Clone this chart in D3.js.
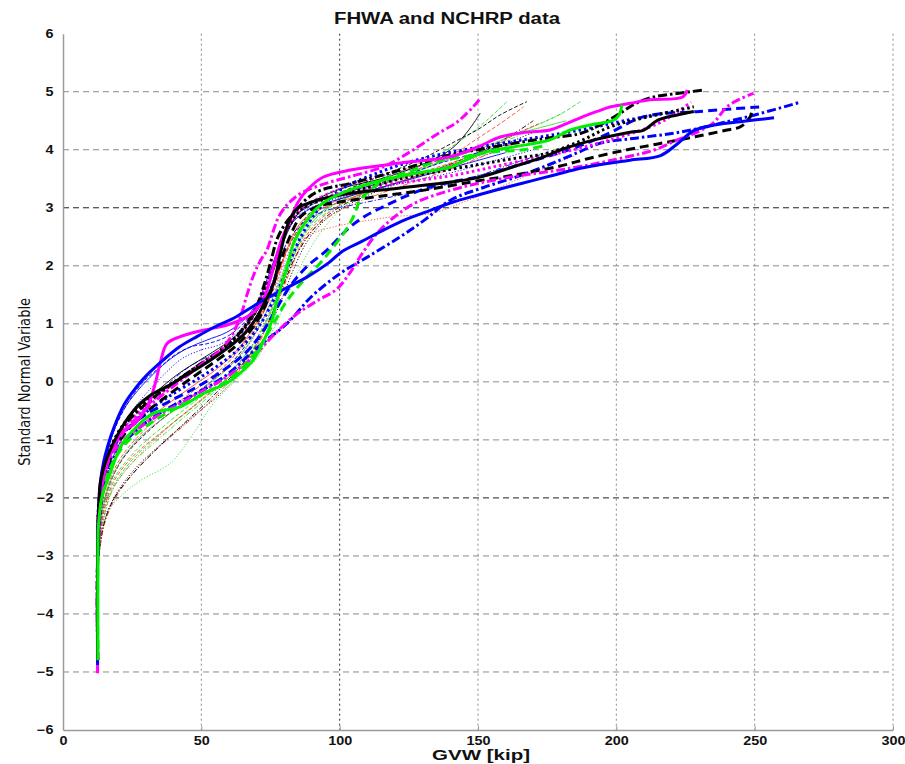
<!DOCTYPE html>
<html>
<head>
<meta charset="utf-8">
<script src="https://cdn.jsdelivr.net/npm/d3@7"></script>
<style>
  html, body { margin: 0; padding: 0; background: #fff; }
  svg { display: block; }
</style>
</head>
<body>
<svg id="chart" width="905" height="764"></svg>
<script>
// ---------------- DATA ----------------
const chartTitle = "FHWA and NCHRP data";
const xLabel = "GVW [kip]";
const yLabel = "Standard Normal Variable";
const xTicks = [0, 50, 100, 150, 200, 250, 300];
const yTicks = [-6, -5, -4, -3, -2, -1, 0, 1, 2, 3, 4, 5, 6];

// thin series (GVW kip, standard normal variable)
const thinGreenDashed = [[13,-3],[14,-2.4],[17,-1.9],[24,-1.4],[35,-0.9],[48,-0.4],[58,0],[66,0.4],[72,0.85],[77,1.4],[82,2.0],[88,2.6],[95,3.0],[105,3.3],[120,3.6],[135,3.9],[145,4.2],[153,4.5],[160.5,4.83]];
const thinBlackDashed = [[13,-3],[14,-2.3],[16.5,-1.8],[22,-1.3],[32,-0.8],[45,-0.3],[56,0.1],[64,0.5],[70,0.95],[75,1.5],[79,2.05],[84,2.55],[90,2.95],[100,3.25],[115,3.55],[130,3.85],[142,4.15],[150,4.35],[158,4.6],[167.7,4.83]];
const thinRedDashed = [[13,-3],[14.5,-2.3],[18,-1.75],[25,-1.3],[36,-0.85],[49,-0.35],[58,0],[66,0.35],[72,0.8],[77,1.3],[82,1.9],[87,2.45],[93,2.8],[102,3.1],[115,3.4],[130,3.7],[142,3.95],[150,4.2],[158,4.45],[166.5,4.74]];
const thinGreenDotted = [[13,-3],[15,-2.3],[20.7,-1.98],[28,-1.7],[38.8,-1.4],[47,-0.9],[54.4,-0.37],[62,0],[70,0.4],[76,0.9],[81,1.45],[86,2.0],[92,2.5],[100,2.95],[110,3.3],[125,3.6],[140,3.85],[155,4.1],[170,4.4],[180.9,4.63]];
const thinGreenDashed2 = [[13,-3],[14.5,-2.2],[18,-1.7],[26,-1.2],[38,-0.7],[50,-0.25],[60,0.15],[68,0.6],[74,1.1],[79,1.7],[84,2.3],[90,2.75],[98,3.05],[110,3.35],[125,3.6],[140,3.85],[155,4.1],[170,4.4],[180,4.62],[187,4.83]];
const thinBlackSolid = [[13,-3],[13.5,-2.2],[15,-1.6],[19,-1.0],[25,-0.55],[33,-0.2],[42,0.15],[52,0.45],[60,0.7],[67,1.0],[72,1.4],[76,1.9],[80,2.45],[85,2.9],[92,3.15],[102,3.35],[115,3.5],[130,3.75],[140,4.0],[146,4.3],[150.8,4.63]];
const thinBlueDashed = [[13,-3],[13.5,-2.1],[15,-1.4],[18,-0.9],[23,-0.4],[29,0.0],[35,0.25],[40,0.45],[46,0.6],[53.2,0.67],[60,0.8],[66,1.05],[71,1.4],[75,1.9],[79,2.4],[84,2.85],[92,3.1],[105,3.3],[120,3.5],[135,3.75],[150,3.95],[165,4.15]];
const thinBlueDotted = [[13,-3],[13.5,-2.2],[15.5,-1.5],[19,-1.0],[25,-0.5],[31,-0.15],[37,0.15],[43,0.4],[50,0.55],[57,0.65],[63,0.85],[68,1.15],[72.5,1.55],[76,2.0],[80,2.5],[86,2.9],[95,3.1],[110,3.3],[125,3.45],[140,3.6],[155,3.8],[170,4.0]];
const thinBlueDashDot = [[13,-3],[14,-2.2],[16,-1.6],[20,-1.1],[26,-0.65],[33,-0.3],[40,0.05],[47,0.3],[55,0.5],[62,0.7],[68,1.0],[73,1.4],[77,1.9],[81,2.4],[87,2.75],[95,2.95],[105,3.05],[120,3.2],[135,3.35],[150,3.55],[165,3.8],[175,3.95]];
const thinRedDotted = [[13,-3],[14.5,-2.4],[17.5,-1.9],[23,-1.5],[31,-1.1],[40,-0.7],[50,-0.3],[58,0.05],[65,0.4],[71,0.85],[76,1.35],[80,1.9],[84,2.3],[90,2.55],[97.8,2.67],[110,2.78],[120,2.85],[132.8,2.9],[145,3.1],[160,3.4],[175,3.7],[185,3.9]];
const thinRedDashed2 = [[13,-3],[14,-2.3],[16.5,-1.75],[21,-1.3],[29,-0.85],[39,-0.45],[50,-0.05],[59,0.3],[66,0.7],[72,1.15],[77,1.7],[81,2.25],[86,2.7],[93,3.0],[103,3.2],[118,3.45],[132,3.65],[145,3.85],[155,4.05],[165,4.3],[172,4.45]];
const thinMagentaDashed = [[13,-3],[13.5,-2.3],[15,-1.7],[18.5,-1.15],[24,-0.7],[31,-0.35],[40,0.0],[50,0.3],[58,0.55],[65,0.85],[70,1.2],[74,1.65],[78,2.2],[82,2.7],[88,3.05],[98,3.3],[112,3.5],[128,3.7],[140,3.88],[150,4.0],[160,4.1]];
const thinBlackDotted = [[13,-3],[15,-2.4],[19,-1.95],[26,-1.5],[36,-1.05],[47,-0.6],[57,-0.2],[65,0.2],[72,0.7],[78,1.3],[83,1.9],[88,2.4],[95,2.8],[105,3.1],[120,3.4],[135,3.65],[150,3.9],[160,4.1],[170,4.3]];
const thinGreenSolid = [[13,-3],[14,-2.3],[16.5,-1.8],[21,-1.35],[29,-0.9],[40,-0.5],[51,-0.1],[60,0.25],[67,0.65],[73,1.15],[78,1.7],[82,2.2],[87,2.65],[94,2.95],[104,3.2],[118,3.45],[132,3.7],[145,3.95],[158,4.2],[170,4.35],[182,4.5]];
const thinRedSolid = [[13,-3],[14,-2.2],[16,-1.65],[20,-1.2],[27,-0.8],[36,-0.45],[46,-0.1],[55,0.2],[63,0.55],[69,0.95],[74,1.4],[78,1.9],[82,2.4],[86,2.75],[92,2.95],[100,3.1],[112,3.3],[125,3.5],[138,3.7],[150,3.9],[160,4.05]];
const thinBlueSolid = [[13,-3],[13.3,-2.2],[14.5,-1.6],[17,-1.05],[21,-0.55],[27,-0.15],[33,0.15],[39,0.4],[45,0.58],[52,0.72],[59,0.85],[65,1.05],[70,1.35],[74,1.8],[78,2.3],[83,2.75],[90,3.0],[100,3.15],[115,3.35],[130,3.55],[145,3.75],[160,3.95]];
const thinMagentaDotted = [[13,-3],[14,-2.4],[16,-1.9],[20,-1.45],[27,-1.0],[37,-0.6],[48,-0.2],[57,0.15],[65,0.5],[71,0.95],[76,1.5],[80,2.05],[85,2.55],[91,2.9],[100,3.15],[115,3.4],[130,3.6],[145,3.8],[160,4.0],[175,4.15]];
const thinBlackDashDot = [[13,-3],[14.5,-2.5],[18,-2.05],[24,-1.65],[33,-1.2],[43,-0.75],[53,-0.3],[61,0.1],[68,0.5],[74,1.0],[79,1.6],[84,2.15],[90,2.6],[98,2.95],[110,3.25],[125,3.5],[140,3.75],[152,4.0],[162,4.25],[170,4.5]];
const thinGreenDashDot = [[13,-3],[14.5,-2.4],[18,-1.85],[24,-1.45],[33,-1.05],[44,-0.6],[54,-0.2],[62,0.2],[69,0.65],[75,1.2],[80,1.8],[85,2.35],[91,2.75],[100,3.05],[112,3.3],[128,3.55],[142,3.8],[155,4.05],[165,4.25]];
const thinRedDashDot = [[13,-3],[15,-2.45],[19,-2.0],[25,-1.6],[34,-1.15],[45,-0.7],[55,-0.25],[63,0.15],[70,0.6],[75,1.1],[80,1.7],[85,2.25],[92,2.7],[102,3.0],[115,3.25],[130,3.5],[142,3.7],[155,3.95],[165,4.15]];

// bold series
const blueDotted = [[12.5,-4.8],[12.5,-3],[13,-2.1],[15,-1.5],[20,-1.0],[28,-0.6],[40,-0.2],[52,0.15],[62,0.5],[70,0.9],[76,1.4],[81,1.95],[86,2.5],[92,2.95],[100,3.3],[114.7,3.62],[130,3.85],[150.8,4.05],[170,4.2],[187,4.34],[203.9,4.51],[219.6,4.65]];
const blueDashed = [[12.5,-4.8],[12.5,-3],[13,-2.2],[15,-1.6],[19,-1.1],[26,-0.7],[36,-0.4],[48,-0.1],[58,0.2],[66,0.5],[72,0.85],[77,1.25],[82,1.64],[88,1.98],[95.4,2.27],[102.6,2.62],[109,2.85],[115.9,3.02],[124,3.2],[132.8,3.36],[142,3.46],[150.8,3.54],[162,3.7],[174.9,3.88],[186,4.05],[198,4.3],[210,4.57],[230,4.66],[252,4.74]];
const blueDashDot = [[12.5,-4.8],[12.5,-3],[13,-2.3],[15,-1.7],[19,-1.25],[25,-0.9],[33,-0.6],[42,-0.35],[52,-0.1],[60,0.15],[67,0.45],[73,0.7],[79.7,0.95],[83.3,1.12],[89.4,1.45],[100.2,1.87],[110,2.15],[121.9,2.5],[131,2.8],[140,3.13],[152,3.35],[165,3.55],[176,3.75],[186,3.95],[194,4.11],[207,4.2],[220,4.28],[230,4.37],[238,4.46],[250,4.6],[265.8,4.81]];
const blueSolid = [[12.5,-4.88],[12.5,-3],[12.8,-2.4],[13.5,-1.74],[14.6,-1.4],[16.2,-1.1],[18.3,-0.8],[22,-0.4],[26.7,-0.08],[31,0.15],[36.3,0.38],[42,0.6],[48.4,0.78],[55,0.95],[61,1.08],[67,1.25],[72.5,1.41],[80,1.6],[88,1.8],[96,2.05],[101,2.25],[108,2.42],[116,2.62],[124,2.8],[133,2.96],[141,3.1],[150,3.22],[160,3.35],[169,3.46],[178,3.57],[187,3.68],[195,3.75],[205,3.82],[216,3.9],[222,4.1],[228,4.33],[236,4.43],[246,4.49],[257,4.55]];
const blackDashed = [[12.5,-4.8],[12.5,-3],[13,-2.2],[15.5,-1.55],[20,-1.05],[27,-0.65],[36,-0.3],[46,0.05],[55,0.35],[62,0.6],[68,0.9],[72,1.2],[75.5,1.6],[78.5,2.05],[82,2.5],[86,2.85],[92,3.02],[100,3.1],[114.7,3.2],[130,3.3],[148.4,3.45],[165,3.58],[179.8,3.72],[190,3.85],[203.9,4.0],[215,4.1],[228,4.22],[240,4.34],[245,4.4],[248.4,4.57],[249,4.69]];
const blackDotted = [[12.5,-4.8],[12.5,-3],[13,-2.1],[15,-1.45],[19,-0.95],[25,-0.55],[34,-0.2],[44,0.12],[53,0.4],[60,0.65],[66,0.95],[70,1.25],[74,1.7],[77.5,2.2],[81.4,2.67],[87,3.0],[97.8,3.19],[110,3.35],[121.9,3.5],[135,3.62],[150.8,3.75],[163,3.85],[174.9,3.94],[187,4.15],[198,4.4],[210,4.55],[228,4.74]];
const blackSolid = [[12.5,-4.8],[12.5,-3],[12.8,-2.4],[13.5,-1.74],[16,-1.3],[20.7,-0.83],[26.7,-0.43],[32,-0.22],[38.8,-0.05],[44,0.1],[49.6,0.26],[56.8,0.49],[61.6,0.66],[66,0.85],[70.1,1.12],[73,1.38],[76.1,1.7],[78.5,2.2],[80.5,2.6],[82.5,2.85],[85,3.0],[91.8,3.13],[103.9,3.25],[115.9,3.31],[132.8,3.4],[150,3.52],[163,3.71],[175,3.9],[180,4.0],[192,4.17],[205,4.3],[210,4.34],[215,4.51],[222,4.6],[228,4.66]];
const blackDashDot = [[12.5,-4.8],[12.5,-3],[13,-2.2],[15,-1.5],[19,-1.0],[24,-0.65],[32,-0.3],[42,0.05],[50,0.32],[57,0.55],[63,0.8],[67,1.05],[70,1.3],[72.5,1.64],[75,2.05],[77.3,2.45],[80,2.7],[83.3,2.9],[88,3.15],[93,3.3],[103.9,3.42],[121.9,3.65],[138.8,3.9],[150,4.0],[162.9,4.11],[175,4.2],[187,4.28],[195,4.45],[201.4,4.63],[207,4.8],[213.5,4.91],[222,4.97],[231.6,5.03]];
const magentaDotted = [[12.5,-4.8],[12.5,-3],[13,-2.0],[15,-1.4],[20,-0.9],[28,-0.5],[38,-0.1],[48,0.25],[57,0.55],[64,0.85],[69,1.2],[73,1.6],[76,2.0],[79,2.4],[83,2.8],[88,3.05],[96,3.2],[110,3.35],[125,3.45],[140,3.55],[160,3.75],[180,3.95],[200,4.2],[215,4.45],[222,4.65],[227,4.82]];
const magentaDashDotLower = [[12.5,-4.8],[12.5,-3],[13,-2.1],[16,-1.4],[22,-1.0],[32,-0.65],[45,-0.3],[58,0.05],[68,0.4],[76,0.8],[84,1.15],[92,1.4],[99,1.6],[104,1.9],[108,2.2],[113.5,2.56],[120,2.85],[128,3.1],[140,3.3],[150,3.42],[163,3.54],[175,3.62],[187,3.71],[204,3.88],[214,4.0],[222,4.17],[229,4.3],[235,4.46],[240,4.74],[245,4.88],[249.6,4.97]];
const magentaDashDotUpper = [[12.5,-4.8],[12.5,-3],[13,-2.2],[15.5,-1.5],[20,-1.0],[26,-0.65],[34,-0.3],[42,0.0],[50,0.3],[56.9,0.55],[61,0.8],[64.1,1.12],[66.5,1.5],[69,1.85],[71.5,2.1],[73.7,2.27],[76,2.6],[78,2.85],[81,3.05],[86,3.25],[95,3.42],[104,3.54],[116,3.71],[125,3.95],[133,4.2],[138,4.35],[142,4.46],[146,4.63],[149,4.78],[151,4.89]];
const magentaSolid = [[12.5,-5.02],[12.5,-3],[12.8,-2.4],[14,-1.8],[17,-1.25],[21,-0.88],[26,-0.72],[29.5,-0.5],[31.5,-0.31],[33.5,0.0],[35.1,0.32],[37.6,0.66],[42.4,0.78],[50.7,0.89],[59.3,0.98],[66.5,1.12],[70,1.25],[72.4,1.41],[74.5,1.7],[76.5,2.05],[79,2.45],[82.1,2.79],[85,3.1],[88.3,3.31],[94.1,3.53],[103.9,3.65],[121.9,3.77],[140,3.88],[150,4.05],[158,4.22],[167,4.3],[176,4.34],[182,4.45],[188,4.57],[193,4.66],[198,4.74],[205,4.8],[212,4.86],[224,4.91],[225.6,5.03]];
const greenDashed = [[12.6,-4.6],[12.6,-3],[13.2,-2.2],[16,-1.6],[22,-1.1],[32,-0.7],[45,-0.35],[57,-0.05],[65,0.25],[71,0.6],[76,1.0],[81,1.4],[87,1.75],[93,2.05],[97.8,2.33],[102,2.6],[105,2.85],[107.4,3.13],[111,3.3],[115.9,3.48],[125,3.62],[132.8,3.77],[145,3.88],[155,3.96],[166.5,4.0],[175,4.08]];
const greenSolid = [[12.6,-4.8],[12.6,-3],[12.8,-2.5],[14,-2.0],[17.1,-1.57],[21,-1.1],[26.7,-0.77],[32.7,-0.54],[42.4,-0.43],[50.8,-0.2],[59.3,-0.02],[64,0.15],[68.8,0.38],[71.5,0.6],[73.8,0.84],[75.8,1.1],[77.4,1.41],[79.5,1.75],[81,1.98],[83.3,2.39],[85.5,2.6],[88.3,2.79],[91.5,2.98],[95.5,3.13],[105,3.33],[115.8,3.48],[128,3.6],[140,3.7],[146,3.83],[151.9,3.95],[163,4.05],[176,4.17],[183.4,4.34],[191,4.43],[199,4.51],[201,4.6],[202,4.77]];

// ---------------- STYLES ----------------
const COL = { blue: "#0000ff", black: "#000000", magenta: "#ff00ff", green: "#00ee00", red: "#ff4a2a", lgreen: "#33dd33" };
const thinDash = { solid: null, dashed: "4,2", dotted: "1.2,1.8", dashdot: "5,2,1.2,2" };
const boldDash = { solid: null, dashed: "9,5", dotted: "2.5,3", dashdot: "9,3,2.5,3" };

const thinSeries = [
  [thinGreenDotted, COL.lgreen, "dotted"],
  [thinBlackDotted, COL.black, "dotted"],
  [thinRedDashDot, COL.red, "dashdot"],
  [thinGreenDashDot, COL.lgreen, "dashdot"],
  [thinBlackDashDot, COL.black, "dashdot"],
  [thinRedDotted, COL.red, "dotted"],
  [thinGreenDashed, COL.lgreen, "dashed"],
  [thinGreenDashed2, COL.lgreen, "dashed"],
  [thinBlackDashed, COL.black, "dashed"],
  [thinRedDashed, COL.red, "dashed"],
  [thinRedDashed2, COL.red, "dashed"],
  [thinGreenSolid, COL.lgreen, "solid"],
  [thinRedSolid, COL.red, "solid"],
  [thinMagentaDotted, COL.magenta, "dotted"],
  [thinMagentaDashed, COL.magenta, "dashed"],
  [thinBlueDashDot, COL.blue, "dashdot"],
  [thinBlueDotted, COL.blue, "dotted"],
  [thinBlueDashed, COL.blue, "dashed"],
  [thinBlueSolid, COL.blue, "solid"],
  [thinBlackSolid, COL.black, "solid"]
];
const boldSeries = [
  [blueDotted, COL.blue, "dotted"],
  [blueDashed, COL.blue, "dashed"],
  [blueDashDot, COL.blue, "dashdot"],
  [blackDashed, COL.black, "dashed"],
  [magentaDashDotLower, COL.magenta, "dashdot"],
  [magentaDotted, COL.magenta, "dotted"],
  [blackDotted, COL.black, "dotted"],
  [greenDashed, COL.green, "dashed"],
  [blackDashDot, COL.black, "dashdot"],
  [magentaDashDotUpper, COL.magenta, "dashdot"],
  [magentaSolid, COL.magenta, "solid"],
  [blueSolid, COL.blue, "solid"],
  [blackSolid, COL.black, "solid"],
  [greenSolid, COL.green, "solid"]
];

// ---------------- CHART ----------------
const svg = d3.select("#chart");
const x = d3.scaleLinear().domain([0, 300]).range([63, 893]);
const y = d3.scaleLinear().domain([-6, 6]).range([730, 33.7]);

svg.append("rect").attr("width", 905).attr("height", 764).attr("fill", "#fff");

// grid
const grid = svg.append("g");
grid.selectAll("line.h").data(yTicks.filter(v => v > -6 && v < 6)).join("line")
  .attr("x1", x(0)).attr("x2", x(300))
  .attr("y1", d => y(d)).attr("y2", d => y(d))
  .attr("stroke", d => (d === -2 || d === 3) ? "#222" : "#8a8a8a")
  .attr("stroke-width", 1)
  .attr("stroke-dasharray", "6,4");
grid.selectAll("line.v").data(xTicks.filter(v => v > 0)).join("line")
  .attr("x1", d => x(d)).attr("x2", d => x(d))
  .attr("y1", y(6)).attr("y2", y(-6))
  .attr("stroke", d => d === 100 ? "#333" : "#8a8a8a")
  .attr("stroke-width", 1)
  .attr("stroke-dasharray", "2,3");

// curves
const line = d3.line().x(d => x(d[0])).y(d => y(d[1])).curve(d3.curveCatmullRom.alpha(0.5));
const curves = svg.append("g").attr("fill", "none").attr("stroke-linejoin", "round");
thinSeries.forEach(([data, c, s]) => {
  curves.append("path").attr("d", line(data)).attr("stroke", c)
    .attr("stroke-width", 0.9).attr("stroke-dasharray", thinDash[s]);
});
boldSeries.forEach(([data, c, s]) => {
  curves.append("path").attr("d", line(data)).attr("stroke", c)
    .attr("stroke-width", 3).attr("stroke-dasharray", boldDash[s]);
});

// axes
const axisColor = "#9a9a9a";
const xAxis = svg.append("g").attr("transform", `translate(0,${y(-6)})`)
  .call(d3.axisBottom(x).tickValues(xTicks).tickSize(0).tickPadding(6));
const yAxis = svg.append("g").attr("transform", `translate(${x(0)},0)`)
  .call(d3.axisLeft(y).tickValues(yTicks).tickSize(0).tickPadding(9));
[xAxis, yAxis].forEach(g => {
  g.select(".domain").attr("stroke", axisColor).attr("stroke-width", 1.5);
  g.selectAll("text").attr("font-family", "Liberation Sans, Arial, sans-serif")
    .attr("font-weight", "bold").attr("font-size", 12).attr("fill", "#111");
});
xAxis.selectAll("text").attr("transform", "scale(1.2,1)");
yAxis.selectAll("text").attr("x", -8).attr("transform", "scale(1.2,1)");
xAxis.selectAll(".tick").append("line").attr("y2", -4).attr("stroke", axisColor);

// title and labels
svg.append("text").attr("x", 447).attr("y", 24).attr("text-anchor", "middle")
  .attr("font-family", "Liberation Sans, Arial, sans-serif").attr("font-weight", "bold")
  .attr("font-size", 16).attr("fill", "#111")
  .attr("textLength", 226).attr("lengthAdjust", "spacingAndGlyphs").text(chartTitle);
svg.append("text").attr("x", 481).attr("y", 760).attr("text-anchor", "middle")
  .attr("font-family", "Liberation Sans, Arial, sans-serif").attr("font-weight", "bold")
  .attr("font-size", 15).attr("fill", "#111")
  .attr("textLength", 98).attr("lengthAdjust", "spacingAndGlyphs").text(xLabel);
svg.append("text").attr("transform", `translate(30,${y(0)}) rotate(-90)`).attr("text-anchor", "middle")
  .attr("font-family", "Liberation Sans Narrow, DejaVu Sans Condensed, Arial Narrow, sans-serif")
  .attr("font-size", 15).attr("fill", "#111")
  .attr("textLength", 168).attr("lengthAdjust", "spacingAndGlyphs").text(yLabel);
</script>
</body>
</html>
